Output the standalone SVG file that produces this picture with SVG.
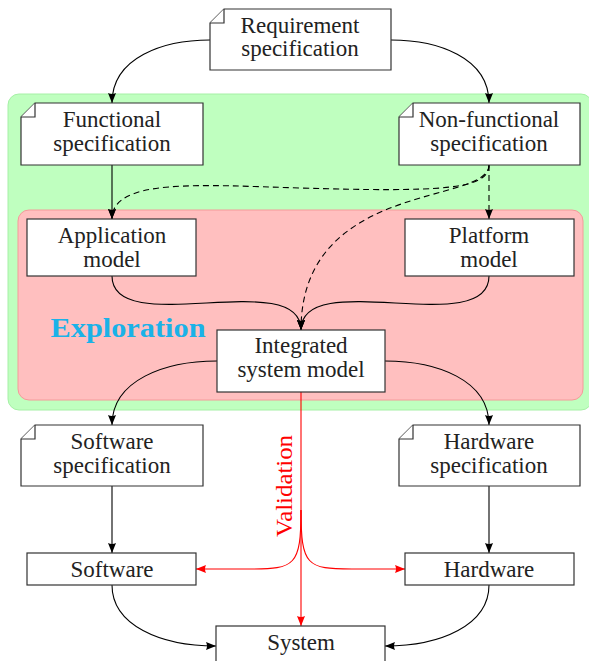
<svg xmlns="http://www.w3.org/2000/svg" width="589" height="661" viewBox="0 0 589 661">
<style>
.box{fill:#fff;stroke:#333;stroke-width:1.2}
.t{font-family:"Liberation Serif","DejaVu Serif",serif;font-size:23px;fill:#222;text-anchor:middle}
.e{fill:none;stroke:#000;stroke-width:1.1}
.d{stroke-dasharray:6 4}
.r{fill:none;stroke:#f00;stroke-width:1.1}
</style>
<defs>
<marker id="ah" viewBox="0 0 10 8" refX="10" refY="4" markerWidth="10" markerHeight="8" markerUnits="userSpaceOnUse" orient="auto"><path d="M0,0 L10,4 L0,8 Q2,4 0,0 z" fill="#000"/></marker>
<marker id="ahr" viewBox="0 0 10 8" refX="10" refY="4" markerWidth="10" markerHeight="8" markerUnits="userSpaceOnUse" orient="auto"><path d="M0,0 L10,4 L0,8 Q2,4 0,0 z" fill="#f00"/></marker>
</defs>
<g id="regions">
<rect x="8" y="94" width="584" height="316" rx="11" fill="#bfffbf" stroke="#a6f0a6" stroke-width="1"/>
<rect x="18" y="210" width="565" height="190" rx="11" fill="#ffbfbf" stroke="#f59a9a" stroke-width="1"/>
<text x="128" y="337" font-family="'Liberation Serif','DejaVu Serif',serif" font-weight="bold" font-size="28" fill="#1ab2e8" text-anchor="middle" textLength="155" lengthAdjust="spacingAndGlyphs">Exploration</text>
</g>
<g id="connectors">
<path class="e" d="M210,40 C164,40 112,57 112,103" marker-end="url(#ah)"/>
<path class="e" d="M391,40 C437,40 489,57 489,103" marker-end="url(#ah)"/>
<path class="e" d="M112,165 L112,219" marker-end="url(#ah)"/>
<path class="e d" d="M489,165 L489,219" marker-end="url(#ah)"/>
<path class="e d" d="M489,165 C489,190 440,192 300,188 C200,185 112,178 112,219" marker-end="url(#ah)"/>
<path class="e d" d="M489,165 C489,205 301,180 301,330" marker-end="url(#ah)"/>
<path class="e" d="M112,276 C112,340 301,266 301,330" marker-end="url(#ah)"/>
<path class="e" d="M489,276 C489,340 301,266 301,330" marker-end="url(#ah)"/>
<path class="e" d="M217,361 C165,361 112,380 112,425" marker-end="url(#ah)"/>
<path class="e" d="M385,361 C437,361 489,380 489,425" marker-end="url(#ah)"/>
<path class="e" d="M112,486 L112,553" marker-end="url(#ah)"/>
<path class="e" d="M489,486 L489,553" marker-end="url(#ah)"/>
<path class="e" d="M112,585 C112,625 160,646 216,646" marker-end="url(#ah)"/>
<path class="e" d="M489,585 C489,625 441,646 385,646" marker-end="url(#ah)"/>
<path class="r" d="M301,392 L301,626" marker-end="url(#ahr)"/>
<path class="r" d="M301,510 C301,566 295,569 250,569 L196,569" marker-end="url(#ahr)"/>
<path class="r" d="M301,510 C301,566 307,569 352,569 L405,569" marker-end="url(#ahr)"/>
<text transform="translate(292,486) rotate(-90)" font-family="'Liberation Serif','DejaVu Serif',serif" font-size="24" fill="#f00" text-anchor="middle" textLength="102" lengthAdjust="spacingAndGlyphs">Validation</text>
</g>
<g id="req">
<path class="box" d="M224,9 L391,9 L391,70 L210,70 L210,23 Z"/>
<path class="box" d="M210,23 L224,23 L224,9" fill="none"/>
<text class="t" x="300" y="33">Requirement</text>
<text class="t" x="300" y="56">specification</text>
</g>
<g id="func">
<path class="box" d="M35,103 L203,103 L203,165 L21,165 L21,117 Z"/>
<path class="box" d="M21,117 L35,117 L35,103" fill="none"/>
<text class="t" x="112" y="127">Functional</text>
<text class="t" x="112" y="151">specification</text>
</g>
<g id="nonfunc">
<path class="box" d="M413,103 L580,103 L580,165 L399,165 L399,117 Z"/>
<path class="box" d="M399,117 L413,117 L413,103" fill="none"/>
<text class="t" x="489" y="127">Non-functional</text>
<text class="t" x="489" y="151">specification</text>
</g>
<g id="app">
<rect class="box" x="27" y="219" width="169" height="57"/>
<text class="t" x="112" y="243">Application</text>
<text class="t" x="112" y="267">model</text>
</g>
<g id="platform">
<rect class="box" x="405" y="219" width="169" height="57"/>
<text class="t" x="489" y="243">Platform</text>
<text class="t" x="489" y="267">model</text>
</g>
<g id="integrated">
<rect class="box" x="217" y="330" width="168" height="62"/>
<text class="t" x="301" y="353">Integrated</text>
<text class="t" x="301" y="377">system model</text>
</g>
<g id="swspec">
<path class="box" d="M35,425 L203,425 L203,486 L21,486 L21,439 Z"/>
<path class="box" d="M21,439 L35,439 L35,425" fill="none"/>
<text class="t" x="112" y="449">Software</text>
<text class="t" x="112" y="473">specification</text>
</g>
<g id="hwspec">
<path class="box" d="M413,425 L580,425 L580,486 L399,486 L399,439 Z"/>
<path class="box" d="M399,439 L413,439 L413,425" fill="none"/>
<text class="t" x="489" y="449">Hardware</text>
<text class="t" x="489" y="473">specification</text>
</g>
<g id="software">
<rect class="box" x="27" y="553" width="169" height="32"/>
<text class="t" x="112" y="577">Software</text>
</g>
<g id="hardware">
<rect class="box" x="405" y="553" width="169" height="32"/>
<text class="t" x="489" y="577">Hardware</text>
</g>
<g id="system">
<rect class="box" x="216" y="626" width="169" height="40"/>
<text class="t" x="301" y="650">System</text>
</g>
</svg>
